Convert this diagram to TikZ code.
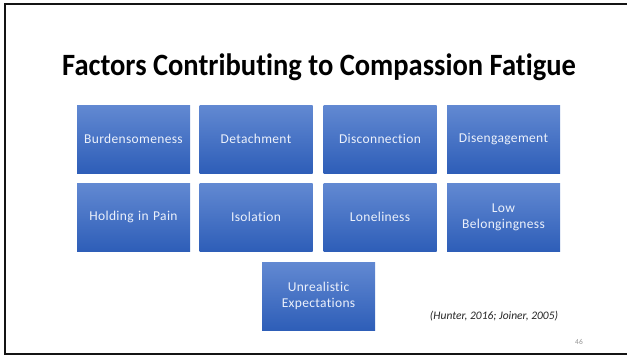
\documentclass[tikz,border=0pt]{standalone}
\usepackage{fontspec}
\setmainfont{Carlito}[Ligatures=NoCommon]
\newfontfamily\boxfont{Carlito}[Ligatures=NoCommon, LetterSpace=2.5]
\definecolor{boxtop}{RGB}{98,137,210}
\definecolor{boxbot}{RGB}{46,94,184}
\definecolor{boxtext}{RGB}{236,241,251}
\definecolor{framecol}{RGB}{20,20,20}
\definecolor{pagenum}{RGB}{150,150,150}
\tikzset{
  factor/.style={rectangle, minimum width=113pt, minimum height=68pt,
    inner sep=0pt, top color=boxtop, bottom color=boxbot, draw=none,
    text=boxtext, font=\boxfont\fontsize{13.5}{16}\selectfont, align=center,
    text width=112pt},
  slidetitle/.style={anchor=base, font=\fontsize{31}{36}\selectfont\bfseries},
  citation/.style={font=\fontsize{11.5}{13}\selectfont\itshape, text=black!85},
  pageno/.style={font=\fontsize{7.5}{8}\selectfont, text=pagenum}
}
\begin{document}
\begin{tikzpicture}[x=1pt,y=-1pt]
  \useasboundingbox (0,0) rectangle (627,356);
  % slide frame, open on the right
  \draw[framecol, line width=2pt] (627,4) -- (5,4) -- (5,354) -- (627,354);

  \node[slidetitle] (title) at (319,75) {\scalebox{0.92}[1]{Factors Contributing to Compassion Fatigue}};

  % first row
  \node[factor] (burden)  at (133.5,139) {Burdensomeness};
  \node[factor] (detach)  at (256,139)   {Detachment};
  \node[factor] (disconn) at (380,139)   {Disconnection};
  \node[factor] (diseng)  at (503.5,139) {Disengagement};
  % second row
  \node[factor] (holding) at (133.5,217) {Holding in Pain};
  \node[factor] (isol)    at (256,217)   {Isolation};
  \node[factor] (lonely)  at (380,217)   {Loneliness};
  \node[factor] (lowbel)  at (503.5,217) {Low\\Belongingness};
  % third row
  \node[factor] (unreal)  at (318.5,296) {Unrealistic\\Expectations};

  \node[citation] (cite) at (494,316) {(Hunter, 2016; Joiner, 2005)};
  \node[pageno] (num) at (579,342) {46};
\end{tikzpicture}
\end{document}
